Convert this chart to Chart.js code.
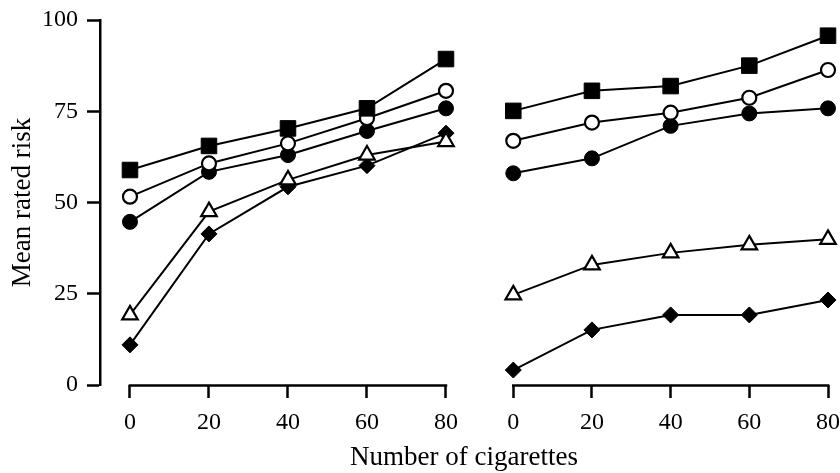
<!DOCTYPE html>
<html>
<head>
<meta charset="utf-8">
<script src="https://cdn.jsdelivr.net/npm/chart.js@4/dist/chart.umd.min.js"></script>
<style>
  html, body { margin: 0; padding: 0; background: #ffffff; }
  #wrap { position: relative; width: 840px; height: 473px; }
</style>
</head>
<body>
<div id="wrap"><canvas id="c" width="840" height="473"></canvas></div>
<script>
// ---- data ----
const cigarettes = [0, 20, 40, 60, 80];
const yTicks = [0, 25, 50, 75, 100];

// left panel
const leftFilledSquare  = [58.9, 65.5, 70.3, 75.8, 89.3];
const leftOpenCircle    = [51.6, 60.7, 66.2, 73.1, 80.6];
const leftFilledCircle  = [44.7, 58.4, 63.0, 69.6, 75.8];
const leftOpenTriangle  = [19.2, 47.5, 56.2, 63.0, 66.7];
const leftFilledDiamond = [11.0, 41.4, 54.3, 60.1, 69.0];

// right panel
const rightFilledSquare  = [75.1, 80.6, 81.9, 87.5, 95.7];
const rightOpenCircle    = [66.9, 71.9, 74.6, 78.7, 86.3];
const rightFilledCircle  = [58.0, 62.1, 71.0, 74.4, 75.8];
const rightOpenTriangle  = [24.7, 32.9, 36.2, 38.4, 39.9];
const rightFilledDiamond = [4.1, 15.1, 19.2, 19.2, 23.3];

const FONT = "'Liberation Serif', 'Times New Roman', serif";

function pts(vals) { return cigarettes.map((x, i) => ({ x: x, y: vals[i] })); }

const markerStyles = {
  filledSquare:  { pointStyle: 'rect',     pointRadius: 11, pointBackgroundColor: '#000', pointBorderWidth: 1 },
  openCircle:    { pointStyle: 'circle',   pointRadius: 7,  pointBackgroundColor: '#fff', pointBorderWidth: 2.2 },
  filledCircle:  { pointStyle: 'circle',   pointRadius: 7.5,pointBackgroundColor: '#000', pointBorderWidth: 1 },
  openTriangle:  { pointStyle: 'triangle', pointRadius: 9,  pointBackgroundColor: '#fff', pointBorderWidth: 2.2 },
  filledDiamond: { pointStyle: 'rectRot',  pointRadius: 8,  pointBackgroundColor: '#000', pointBorderWidth: 1 }
};

function ds(label, vals, style, axis) {
  return Object.assign({
    label: label,
    data: pts(vals),
    xAxisID: axis,
    borderColor: '#000',
    borderWidth: 2,
    pointBorderColor: '#000',
    pointHoverRadius: 9,
    showLine: true,
    fill: false,
    tension: 0,
    clip: false
  }, markerStyles[style]);
}

const datasets = [
  ds('Left ■', leftFilledSquare, 'filledSquare', 'xL'),
  ds('Left ○', leftOpenCircle, 'openCircle', 'xL'),
  ds('Left ●', leftFilledCircle, 'filledCircle', 'xL'),
  ds('Left △', leftOpenTriangle, 'openTriangle', 'xL'),
  ds('Left ◆', leftFilledDiamond, 'filledDiamond', 'xL'),
  ds('Right ■', rightFilledSquare, 'filledSquare', 'xR'),
  ds('Right ○', rightOpenCircle, 'openCircle', 'xR'),
  ds('Right ●', rightFilledCircle, 'filledCircle', 'xR'),
  ds('Right △', rightOpenTriangle, 'openTriangle', 'xR'),
  ds('Right ◆', rightFilledDiamond, 'filledDiamond', 'xR')
];

function fixedTicks(scale) { scale.ticks = cigarettes.map(v => ({ value: v })); }
function fitX(scale) { scale.paddingLeft = 0; scale.paddingRight = 0; scale.height = 52; }

function xScale(min, max, weight) {
  return {
    type: 'linear',
    position: 'bottom',
    stack: 'panels',
    stackWeight: weight,
    min: min,
    max: max,
    afterBuildTicks: fixedTicks,
    afterFit: fitX,
    border: { display: false },
    grid: { drawOnChartArea: false, drawTicks: true, tickLength: 13, tickColor: '#000', tickWidth: 2.5, color: '#000' },
    ticks: { color: '#000', font: { family: FONT, size: 24 }, padding: 10, maxRotation: 0, autoSkip: false }
  };
}

// draws each panel's x-axis line from 0 to 80 through the scale
const axisLinePlugin = {
  id: 'axisLines',
  afterDraw(chart) {
    const ctx = chart.ctx;
    ['xL', 'xR'].forEach(id => {
      const s = chart.scales[id];
      const x0 = s.getPixelForValue(cigarettes[0]);
      const x1 = s.getPixelForValue(cigarettes[cigarettes.length - 1]);
      ctx.save();
      ctx.strokeStyle = '#000';
      ctx.lineWidth = 2.5;
      ctx.beginPath();
      ctx.moveTo(x0 - 1.25, s.top + 0.5);
      ctx.lineTo(x1 + 1.25, s.top + 0.5);
      ctx.stroke();
      ctx.restore();
    });
  }
};

new Chart(document.getElementById('c'), {
  type: 'scatter',
  data: { datasets: datasets },
  plugins: [axisLinePlugin],
  options: {
    responsive: false,
    animation: false,
    events: [],
    layout: { padding: { top: 20, right: 0, bottom: 0, left: 0 } },
    plugins: {
      legend: { display: false },
      tooltip: { enabled: false },
      title: {
        display: true,
        text: 'Number of cigarettes',
        position: 'bottom',
        fullSize: false,
        color: '#000',
        font: { family: FONT, size: 27, weight: 'normal', lineHeight: 1.0 },
        padding: { top: 7, bottom: 2 }
      }
    },
    scales: {
      xL: xScale(-7.59, 88.61, 380),
      xR: xScale(-8.46, 80, 348),
      y: {
        type: 'linear',
        position: 'left',
        min: 0,
        max: 100,
        afterBuildTicks: s => { s.ticks = yTicks.map(v => ({ value: v })); },
        afterFit: s => { s.width = 100; s.paddingTop = 0; s.paddingBottom = 0; },
        border: { display: true, color: '#000', width: 2.5 },
        grid: { drawOnChartArea: false, drawTicks: true, tickLength: 13, tickColor: '#000', tickWidth: 2.5, color: '#000' },
        ticks: { color: '#000', font: { family: FONT, size: 24 }, padding: 9 },
        title: {
          display: true,
          text: 'Mean rated risk',
          color: '#000',
          font: { family: FONT, size: 27 },
          padding: { top: 7, bottom: 0 }
        }
      }
    }
  }
});
</script>
</body>
</html>
